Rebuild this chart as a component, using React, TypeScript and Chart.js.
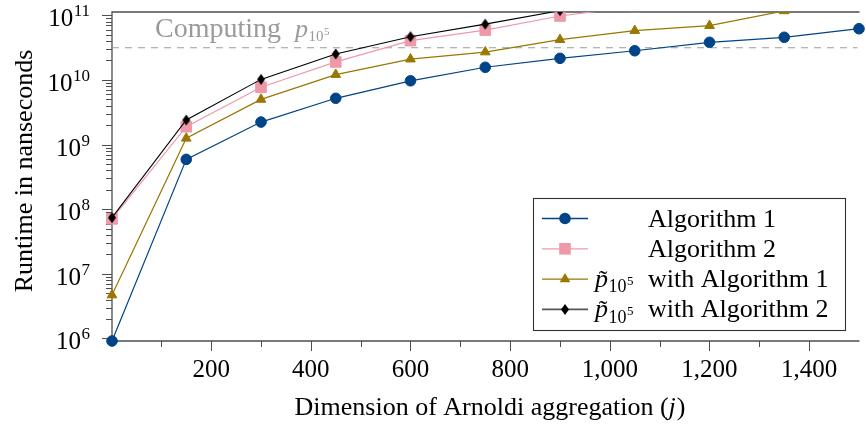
import React, { useEffect, useRef } from 'react';
import { Chart, registerables } from 'chart.js';

Chart.register(...registerables);

// ---- data ----
const xValues = [1, 150, 300, 450, 600, 750, 900, 1050, 1200, 1350, 1500];
const algorithm1 = [9.15e5, 5.9e8, 2.23e9, 5.2e9, 9.7e9, 1.57e10, 2.16e10, 2.83e10, 3.82e10, 4.57e10, 6.2e10];
const algorithm2 = [7.1e7, 1.89e9, 7.7e9, 1.9e10, 4.05e10, 5.9e10, 9.75e10, 1.37e11, 1.8e11, 2.3e11, 2.9e11];
const pTildeAlg1 = [4.7e6, 1.25e9, 5.0e9, 1.21e10, 2.1e10, 2.7e10, 4.2e10, 5.8e10, 6.9e10, 1.17e11, 1.5e11];
const pTildeAlg2 = [7.4e7, 2.4e9, 1.02e10, 2.52e10, 4.67e10, 7.3e10, 1.18e11, 1.5e11, 1.9e11, 2.4e11, 3.0e11];
const computingLevel = 3.15e10;

const xAxisMin = 1;
const xAxisMax = 1497;
const yAxisMin = Math.pow(10, 5.9613);
const yAxisMax = Math.pow(10, 11.051);
const xTickValues = [100, 200, 300, 400, 500, 600, 700, 800, 900, 1000, 1100, 1200, 1300, 1400];
const yDecades = [6, 7, 8, 9, 10, 11];

const seriesNames = ['Algorithm 1', 'Algorithm 2', 'with Algorithm 1', 'with Algorithm 2'];
const computingLabel = 'Computing';
const xTitle = 'Dimension of Arnoldi aggregation (';
const yTitle = 'Runtime in nanseconds';

const BLUE = '#004488';
const PINK = '#EE99AA';
const GOLD = '#997700';
const BLACK = '#000000';
const AXIS = '#4d4d4d';
const FONT = '"Liberation Serif", "Times New Roman", serif';

function makeDiamond(color: string) {
  const c = document.createElement('canvas');
  c.width = 10;
  c.height = 14;
  const ctx = c.getContext('2d')!;
  ctx.fillStyle = color;
  ctx.beginPath();
  ctx.moveTo(5, 1.5);
  ctx.lineTo(9, 7);
  ctx.lineTo(5, 12.5);
  ctx.lineTo(1, 7);
  ctx.closePath();
  ctx.fill();
  return c;
}

function pts(values: number[]) {
  return xValues.map((x, i) => ({ x, y: values[i] }));
}

function drawSub(ctx: CanvasRenderingContext2D, x: number, baseline: number, size: number, color: string) {
  const sub = Math.round(size * 0.68);
  const sup = Math.round(size * 0.5);
  ctx.fillStyle = color;
  ctx.textAlign = 'left';
  ctx.font = `${sub}px ${FONT}`;
  ctx.fillText('10', x, baseline + size * 0.2);
  const w10 = ctx.measureText('10').width;
  ctx.font = `${sup}px ${FONT}`;
  ctx.fillText('5', x + w10 + 0.5, baseline + size * 0.2 - sub * 0.42);
  return x + w10 + 0.5 + ctx.measureText('5').width;
}

// italic p with tilde accent and subscript 10^5
function drawPTilde(ctx: CanvasRenderingContext2D, x: number, baseline: number, size: number, color: string) {
  ctx.fillStyle = color;
  ctx.textAlign = 'left';
  ctx.textBaseline = 'alphabetic';
  ctx.font = `italic ${size}px ${FONT}`;
  const pw = ctx.measureText('p').width;
  ctx.fillText('p', x, baseline);
  ctx.font = `${size}px ${FONT}`;
  ctx.textAlign = 'center';
  ctx.fillText('\u02DC', x + pw / 2 + 1.5, baseline + 1);
  ctx.textAlign = 'left';
  return drawSub(ctx, x + pw + 0.5, baseline, size, color);
}

function drawMarker(ctx: CanvasRenderingContext2D, kind: string, x: number, y: number, color: string) {
  ctx.fillStyle = color;
  ctx.beginPath();
  if (kind === 'circle') {
    ctx.arc(x, y, 5.8, 0, Math.PI * 2);
  } else if (kind === 'rect') {
    ctx.rect(x - 5.8, y - 5.8, 11.6, 11.6);
  } else if (kind === 'triangle') {
    const r = 6.2;
    ctx.moveTo(x, y - r);
    ctx.lineTo(x + r * 0.866, y + r / 2);
    ctx.lineTo(x - r * 0.866, y + r / 2);
    ctx.closePath();
  } else {
    ctx.moveTo(x, y - 5.5);
    ctx.lineTo(x + 4, y);
    ctx.lineTo(x, y + 5.5);
    ctx.lineTo(x - 4, y);
    ctx.closePath();
  }
  ctx.fill();
}

const axesPlugin = {
  id: 'customAxes',
  beforeDatasetsDraw(chart: any) {
    const { ctx, chartArea: a } = chart;
    const xs = chart.scales.x;
    const ys = chart.scales.y;
    ctx.save();
    // frame
    ctx.strokeStyle = AXIS;
    ctx.lineWidth = 1.3;
    ctx.beginPath();
    ctx.moveTo(a.right + 2, a.top);
    ctx.lineTo(a.left, a.top);
    ctx.lineTo(a.left, a.bottom);
    ctx.lineTo(a.right + 2, a.bottom);
    ctx.stroke();

    // x ticks
    ctx.lineWidth = 1;
    ctx.beginPath();
    xTickValues.forEach((v) => {
      const px = Math.round(xs.getPixelForValue(v)) + 0.5;
      const len = v % 200 === 0 ? 10 : 6;
      ctx.moveTo(px, a.bottom);
      ctx.lineTo(px, a.bottom + len);
    });
    // y ticks
    for (let k = 5; k <= 11; k++) {
      for (let m = 1; m <= 9; m++) {
        const v = m * Math.pow(10, k);
        if (v < yAxisMin || v > yAxisMax) continue;
        const py = Math.round(ys.getPixelForValue(v)) + 0.5;
        const len = m === 1 ? 10 : 6;
        ctx.moveTo(a.left - len, py);
        ctx.lineTo(a.left, py);
      }
    }
    ctx.stroke();

    // x tick labels
    ctx.fillStyle = '#000';
    ctx.font = `25px ${FONT}`;
    ctx.textAlign = 'center';
    ctx.textBaseline = 'alphabetic';
    xTickValues.forEach((v) => {
      if (v % 200 !== 0) return;
      ctx.fillText(v.toLocaleString('en-US'), xs.getPixelForValue(v), 377);
    });

    // y tick labels 10^k
    yDecades.forEach((k) => {
      const py = ys.getPixelForValue(Math.pow(10, k));
      const right = 90;
      ctx.textAlign = 'right';
      ctx.font = `17px ${FONT}`;
      const exp = String(k);
      const ew = ctx.measureText(exp).width;
      ctx.fillText(exp, right, py + 1);
      ctx.font = `25px ${FONT}`;
      ctx.fillText('10', right - ew - 0.5, py + 11);
    });

    // x title
    ctx.font = `26px ${FONT}`;
    ctx.textAlign = 'left';
    const tw = ctx.measureText(xTitle).width;
    ctx.font = `italic 26px ${FONT}`;
    const jw = ctx.measureText('j').width;
    ctx.font = `26px ${FONT}`;
    const cw = ctx.measureText(')').width;
    const total = tw + jw + 1 + cw;
    const sx = 490 - total / 2;
    ctx.fillText(xTitle, sx, 415);
    ctx.font = `italic 26px ${FONT}`;
    ctx.fillText('j', sx + tw, 415);
    ctx.font = `26px ${FONT}`;
    ctx.fillText(')', sx + tw + jw + 1, 415);

    // y title
    ctx.save();
    ctx.translate(32, 171);
    ctx.rotate(-Math.PI / 2);
    ctx.textAlign = 'center';
    ctx.font = `26px ${FONT}`;
    ctx.fillText(yTitle, 0, 0);
    ctx.restore();

    // Computing p_{10^5}
    ctx.font = `28px ${FONT}`;
    ctx.textAlign = 'left';
    ctx.fillStyle = '#9a9a9a';
    ctx.fillText(computingLabel, 155, 37);
    ctx.font = `italic 26px ${FONT}`;
    const pw = ctx.measureText('p').width;
    ctx.fillText('p', 295, 37);
    drawSub(ctx, 295 + pw + 0.5, 37, 22, '#9a9a9a');
    ctx.restore();
  },
  afterDraw(chart: any) {
    const { ctx } = chart;
    ctx.save();
    const bx = 533.5, by = 198.5, bw = 312, bh = 132;
    ctx.fillStyle = '#fff';
    ctx.fillRect(bx, by, bw, bh);
    ctx.strokeStyle = '#333';
    ctx.lineWidth = 1.1;
    ctx.strokeRect(bx, by, bw, bh);
    const colors = [BLUE, PINK, GOLD, BLACK];
    const kinds = ['circle', 'rect', 'triangle', 'diamond'];
    for (let i = 0; i < 4; i++) {
      const yy = 218.5 + i * 30.3;
      ctx.strokeStyle = i === 3 ? '#555' : colors[i];
      ctx.lineWidth = i === 3 ? 1.6 : 1.3;
      ctx.beginPath();
      ctx.moveTo(542, yy);
      ctx.lineTo(588, yy);
      ctx.stroke();
      drawMarker(ctx, kinds[i], 565, yy, colors[i]);
      ctx.fillStyle = '#000';
      ctx.font = `26px ${FONT}`;
      const base = yy + 8;
      if (i < 2) {
        ctx.textAlign = 'center';
        ctx.fillText(seriesNames[i], 712, base);
      } else {
        drawPTilde(ctx, 595, base, 26, '#000');
        ctx.font = `26px ${FONT}`;
        ctx.textAlign = 'left';
        ctx.fillStyle = '#000';
        ctx.fillText(seriesNames[i], 648, base);
      }
    }
    ctx.restore();
  },
};

export default function App() {
  const ref = useRef<HTMLCanvasElement | null>(null);
  useEffect(() => {
    if (!ref.current) return;
    const diamond = makeDiamond(BLACK);
    const clip = { left: 20, top: 0, right: 20, bottom: 20 };
    const chart = new Chart(ref.current, {
      type: 'line',
      data: {
        datasets: [
          {
            label: 'Computing',
            data: [
              { x: xAxisMin, y: computingLevel },
              { x: xAxisMax, y: computingLevel },
            ],
            borderColor: '#9a9a9a',
            borderWidth: 1.2,
            borderDash: [7, 6],
            pointRadius: 0,
            order: 10,
            clip,
          },
          {
            label: seriesNames[0],
            data: pts(algorithm1),
            borderColor: BLUE,
            backgroundColor: BLUE,
            borderWidth: 1.2,
            pointStyle: 'circle',
            pointRadius: 5.3,
            pointBorderWidth: 1,
            pointBorderColor: BLUE,
            pointBackgroundColor: BLUE,
            order: 4,
            clip,
          },
          {
            label: seriesNames[1],
            data: pts(algorithm2),
            borderColor: PINK,
            backgroundColor: PINK,
            borderWidth: 1.2,
            pointStyle: 'rect',
            pointRadius: 7.5,
            pointBorderWidth: 1,
            pointBorderColor: PINK,
            pointBackgroundColor: PINK,
            order: 3,
            clip,
          },
          {
            label: 'p~ ' + seriesNames[2],
            data: pts(pTildeAlg1),
            borderColor: GOLD,
            backgroundColor: GOLD,
            borderWidth: 1.2,
            pointStyle: 'triangle',
            pointRadius: 5.6,
            pointBorderWidth: 1,
            pointBorderColor: GOLD,
            pointBackgroundColor: GOLD,
            order: 2,
            clip,
          },
          {
            label: 'p~ ' + seriesNames[3],
            data: pts(pTildeAlg2),
            borderColor: BLACK,
            backgroundColor: BLACK,
            borderWidth: 1.1,
            pointStyle: diamond,
            pointRadius: 5,
            order: 1,
            clip,
          },
        ],
      },
      options: {
        animation: false,
        responsive: false,
        devicePixelRatio: 1,
        layout: { padding: { left: 112, top: 12, right: 0, bottom: 88 } },
        scales: {
          x: { type: 'linear', min: xAxisMin, max: xAxisMax, display: false },
          y: { type: 'logarithmic', min: yAxisMin, max: yAxisMax, display: false },
        },
        plugins: { legend: { display: false }, tooltip: { enabled: false } },
        elements: { line: { tension: 0 } },
      },
      plugins: [axesPlugin],
    });
    return () => chart.destroy();
  }, []);
  return (
    <div style={{ position: 'absolute', left: 0, top: 0, width: 866, height: 429, background: '#fff' }}>
      <canvas ref={ref} width={866} height={429} style={{ display: 'block' }} />
    </div>
  );
}
